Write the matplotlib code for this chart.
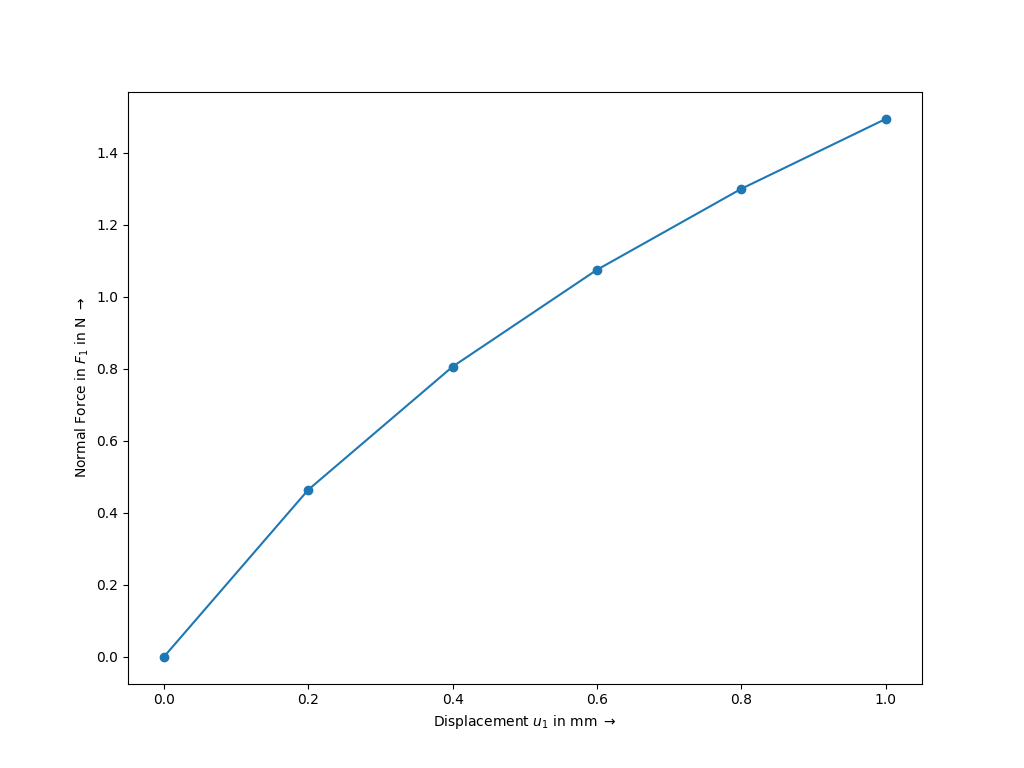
import matplotlib
matplotlib.use("Agg")
import matplotlib.pyplot as plt

# displacement in mm and normal force in N
displacement = [0.0, 0.2, 0.4, 0.6, 0.8, 1.0]
force = [0.0, 0.464, 0.806, 1.075, 1.300, 1.494]

fig, ax = plt.subplots(figsize=(10.24, 7.68), dpi=100)
ax.plot(displacement, force, marker='o')

ax.set_xlabel(r'Displacement $u_1$ in mm $\rightarrow$')
ax.set_ylabel(r'Normal Force in $F_1$ in N $\rightarrow$')

fig.savefig('out.png', dpi=100)
